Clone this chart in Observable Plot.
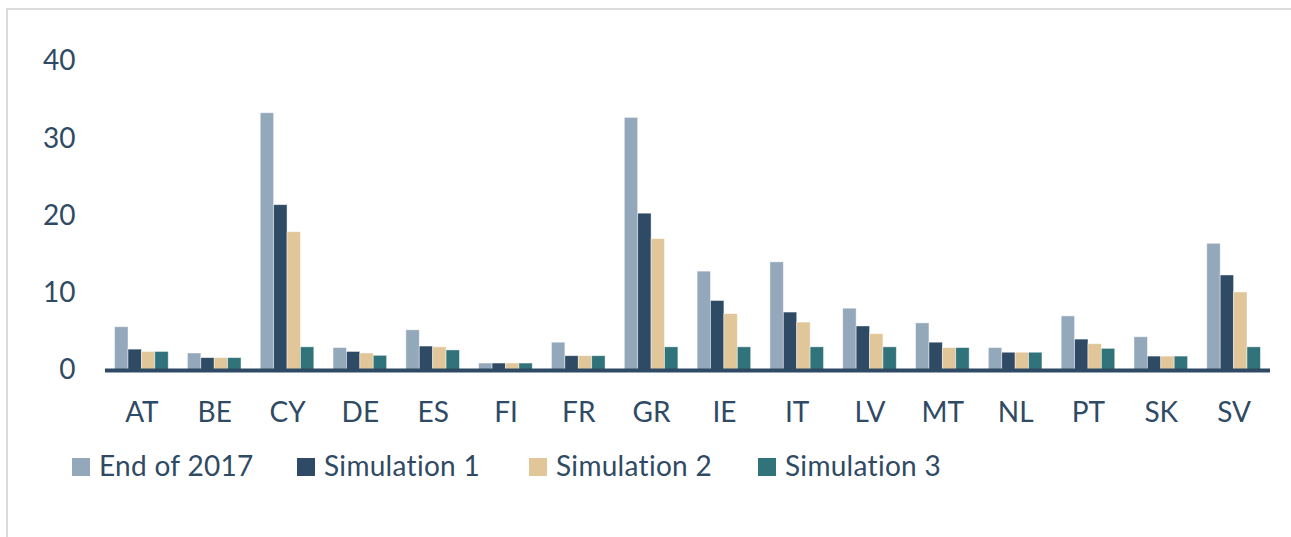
<!DOCTYPE html>
<html>
<head>
<meta charset="utf-8">
<script src="https://cdn.jsdelivr.net/npm/d3@7"></script>
<script src="https://cdn.jsdelivr.net/npm/@observablehq/plot@0.6"></script>
<style>
  html, body { margin: 0; padding: 0; background: #fff; }
  body { width: 1291px; height: 537px; overflow: hidden; position: relative; font-family: "Lato", sans-serif; }
  #frame { position: absolute; left: 6px; top: 8px; width: 1400px; height: 700px; border-left: 2px solid #DCDCDC; border-top: 2px solid #DCDCDC; }
  #chart { position: absolute; left: 0; top: 0; }
  #legend { position: absolute; left: 0; top: 448px; width: 1291px; height: 40px; font-size: 28px; color: #2F4A64; white-space: nowrap; }
  .item { position: absolute; top: 0; display: flex; align-items: baseline; }
  .item span.t { letter-spacing: 0.3px; }
  .sw { display: inline-block; width: 18px; height: 18px; margin-right: 9px; }
</style>
</head>
<body>
<div id="frame"></div>
<div id="chart"></div>
<div id="legend"></div>
<script>
const countries = ["AT","BE","CY","DE","ES","FI","FR","GR","IE","IT","LV","MT","NL","PT","SK","SV"];
const seriesNames = ["End of 2017", "Simulation 1", "Simulation 2", "Simulation 3"];
const end2017 = [5.6, 2.2, 33.3, 2.9, 5.2, 0.9, 3.6, 32.7, 12.8, 14.0, 8.0, 6.1, 2.9, 7.0, 4.3, 16.4];
const sim1    = [2.7, 1.6, 21.4, 2.4, 3.1, 0.9, 1.85, 20.3, 9.0, 7.5, 5.7, 3.6, 2.3, 4.0, 1.8, 12.3];
const sim2    = [2.4, 1.6, 17.9, 2.2, 3.0, 0.9, 1.85, 17.0, 7.3, 6.2, 4.7, 2.9, 2.3, 3.4, 1.8, 10.1];
const sim3    = [2.4, 1.6, 3.0, 1.9, 2.6, 0.9, 1.85, 3.0, 3.0, 3.0, 3.0, 2.9, 2.3, 2.8, 1.8, 3.0];
const yTicks = [0, 10, 20, 30, 40];
const colors = ["#94A8BB", "#2E4A64", "#E0C698", "#31737A"];
const legendLeft = [72, 297, 529, 758];

const allSeries = [end2017, sim1, sim2, sim3];

const W = 1291, H = 440, ML = 105, MR = 21, MT = 61, MB = 70;
const step = (W - ML - MR) / countries.length;   // band with no padding
const gapFrac = 0.264;                              // share of each band left empty
const groupW = step * (1 - gapFrac);
const edge = (step - groupW) / 2;
const bw = groupW / 4;

const barMarks = allSeries.map((vals, i) =>
  Plot.barY(countries.map((c, k) => ({country: c, value: vals[k]})), {
    x: "country",
    y: "value",
    fill: colors[i],
    stroke: "#ffffff",
    strokeOpacity: 0.55,
    strokeWidth: 0.8,
    insetLeft: edge + i * bw,
    insetRight: edge + (3 - i) * bw
  })
);

const chart = Plot.plot({
  width: W,
  height: H,
  marginLeft: ML,
  marginRight: MR,
  marginTop: MT,
  marginBottom: MB,
  style: {fontFamily: "Lato, sans-serif", fontSize: "28px", color: "#2F4A64", background: "transparent"},
  x: {domain: countries, padding: 0, round: false, tickSize: 0, tickPadding: 32, label: null},
  y: {domain: [0, 40], ticks: yTicks, tickSize: 0, tickPadding: 30, label: null, line: false},
  marks: [
    ...barMarks,
    Plot.ruleY([0], {stroke: "#2E4A64", strokeWidth: 4})
  ]
});
document.getElementById("chart").appendChild(chart);

const legend = document.getElementById("legend");
seriesNames.forEach((name, i) => {
  const item = document.createElement("div");
  item.className = "item";
  item.style.left = legendLeft[i] + "px";
  const sw = document.createElement("span");
  sw.className = "sw";
  sw.style.background = colors[i];
  const t = document.createElement("span");
  t.className = "t";
  t.textContent = name;
  item.appendChild(sw);
  item.appendChild(t);
  legend.appendChild(item);
});
</script>
</body>
</html>
